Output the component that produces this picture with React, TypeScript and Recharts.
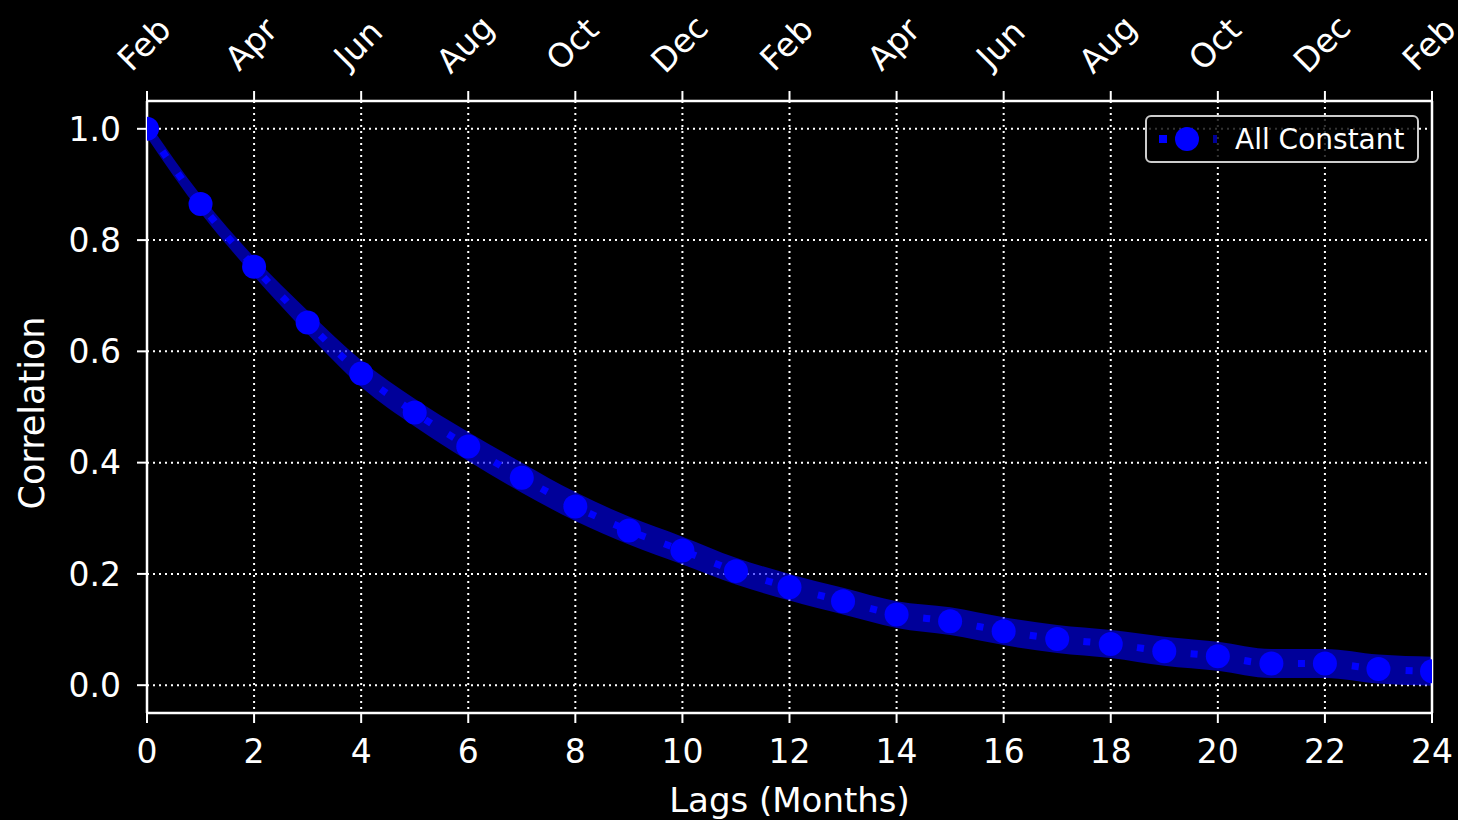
import { ComposedChart, Line, Area, XAxis, YAxis, CartesianGrid, ReferenceLine } from 'recharts'

const lags = [0, 1, 2, 3, 4, 5, 6, 7, 8, 9, 10, 11, 12, 13, 14, 15, 16, 17, 18, 19, 20, 21, 22, 23, 24]
const correlation = [1.0, 0.865, 0.752, 0.652, 0.56, 0.49, 0.429, 0.373, 0.321, 0.278, 0.242, 0.205, 0.176, 0.151, 0.127, 0.115, 0.097, 0.083, 0.074, 0.061, 0.052, 0.039, 0.039, 0.029, 0.025]
const bandHigh = [1.015, 0.881, 0.769, 0.673, 0.584, 0.515, 0.455, 0.4, 0.347, 0.303, 0.267, 0.229, 0.2, 0.175, 0.151, 0.14, 0.122, 0.108, 0.099, 0.087, 0.078, 0.065, 0.065, 0.055, 0.051]
const bandLow = [0.985, 0.849, 0.735, 0.631, 0.536, 0.465, 0.403, 0.346, 0.295, 0.253, 0.217, 0.181, 0.152, 0.127, 0.103, 0.09, 0.072, 0.058, 0.049, 0.035, 0.026, 0.013, 0.013, 0.003, -0.001]

const lagTicks = [0, 2, 4, 6, 8, 10, 12, 14, 16, 18, 20, 22, 24]
const monthLabels = ['Feb', 'Apr', 'Jun', 'Aug', 'Oct', 'Dec', 'Feb', 'Apr', 'Jun', 'Aug', 'Oct', 'Dec', 'Feb']
const corrTicks = [0, 0.2, 0.4, 0.6, 0.8, 1.0]

const data = lags.map((lag, i) => ({
  lag,
  value: correlation[i],
  band: [bandLow[i], bandHigh[i]],
}))

const FONT = '"DejaVu Sans", sans-serif'
const BLUE = '#0000ff'

function MonthTick({ x, y, payload }: any) {
  const label = monthLabels[lagTicks.indexOf(payload.value)]
  return (
    <text
      transform={`translate(${x - 3}, ${y - 43}) rotate(-45)`}
      textAnchor="middle"
      dominantBaseline="central"
      fill="#fff"
      fontSize={33}
      fontFamily={FONT}
    >
      {label}
    </text>
  )
}

function LegendBox() {
  return (
    <div
      style={{
        position: 'absolute',
        left: 1145,
        top: 115,
        width: 270,
        height: 44,
        border: '2px solid #cccccc',
        borderRadius: 6,
        background: 'rgba(0,0,0,0.8)',
        display: 'flex',
        alignItems: 'center',
        fontFamily: FONT,
        fontSize: 28,
        color: '#fff',
      }}
    >
      <svg width={80} height={44} style={{ marginLeft: 8 }}>
        <rect x={4} y={18} width={8} height={8} fill={BLUE} />
        <circle cx={32} cy={22} r={12} fill={BLUE} />
        <rect x={58} y={18} width={4} height={8} fill={BLUE} opacity={0.6} />
      </svg>
      <span>All Constant</span>
    </div>
  )
}

export default function App() {
  return (
    <div style={{ position: 'relative', width: 1458, height: 820, background: '#000' }}>
      <style>{'body{margin:0;background:#000}'}</style>
      <ComposedChart
        width={1458}
        height={820}
        data={data}
        margin={{ top: 0, right: 26, bottom: 0, left: 0 }}
      >
        <CartesianGrid xAxisId="bottom" stroke="#ffffff" strokeWidth={2} strokeDasharray="2 4" />
        <XAxis
          xAxisId="top"
          orientation="top"
          type="number"
          dataKey="lag"
          domain={[0, 24]}
          ticks={lagTicks}
          height={101}
          tick={<MonthTick />}
          tickSize={10}
          tickMargin={4}
          stroke="#fff"
          strokeWidth={2.5}
          tickLine={{ stroke: '#fff', strokeWidth: 2 }}
          allowDataOverflow
        />
        <XAxis
          xAxisId="bottom"
          type="number"
          dataKey="lag"
          domain={[0, 24]}
          ticks={lagTicks}
          height={107}
          tick={{ fill: '#fff', fontSize: 33, fontFamily: FONT }}
          tickSize={10}
          tickMargin={17}
          stroke="#fff"
          strokeWidth={2.5}
          tickLine={{ stroke: '#fff', strokeWidth: 2 }}
          allowDataOverflow
          label={{
            content: ({ viewBox }: any) => (
              <text
                x={viewBox.x + viewBox.width / 2}
                y={viewBox.y + 99}
                textAnchor="middle"
                fill="#fff"
                fontSize={34}
                fontFamily={FONT}
              >
                Lags (Months)
              </text>
            ),
          }}
        />
        <YAxis
          type="number"
          domain={[-0.05, 1.05]}
          ticks={corrTicks}
          width={147}
          tick={{ fill: '#fff', fontSize: 33, fontFamily: FONT }}
          tickFormatter={(v: number) => v.toFixed(1)}
          tickSize={10}
          tickMargin={16}
          stroke="#fff"
          strokeWidth={2.5}
          tickLine={{ stroke: '#fff', strokeWidth: 2 }}
          allowDataOverflow
          label={{
            content: ({ viewBox }: any) => {
              const cx = 32
              const cy = viewBox.y + viewBox.height / 2 + 6
              return (
                <text
                  transform={`translate(${cx}, ${cy}) rotate(-90)`}
                  textAnchor="middle"
                  dominantBaseline="central"
                  fill="#fff"
                  fontSize={35}
                  fontFamily={FONT}
                >
                  Correlation
                </text>
              )
            },
          }}
        />
        <ReferenceLine xAxisId="bottom" x={24} stroke="#fff" strokeWidth={2.5} ifOverflow="visible" />
        <Area
          xAxisId="bottom"
          type="monotone"
          dataKey="band"
          stroke="none"
          fill={BLUE}
          fillOpacity={0.6}
          isAnimationActive={false}
        />
        <Line
          xAxisId="bottom"
          type="monotone"
          dataKey="value"
          stroke={BLUE}
          strokeWidth={7}
          strokeDasharray="7 20"
          dot={{ r: 12, fill: BLUE, stroke: 'none' }}
          activeDot={false}
          isAnimationActive={false}
        />
      </ComposedChart>
      <LegendBox />
    </div>
  )
}
